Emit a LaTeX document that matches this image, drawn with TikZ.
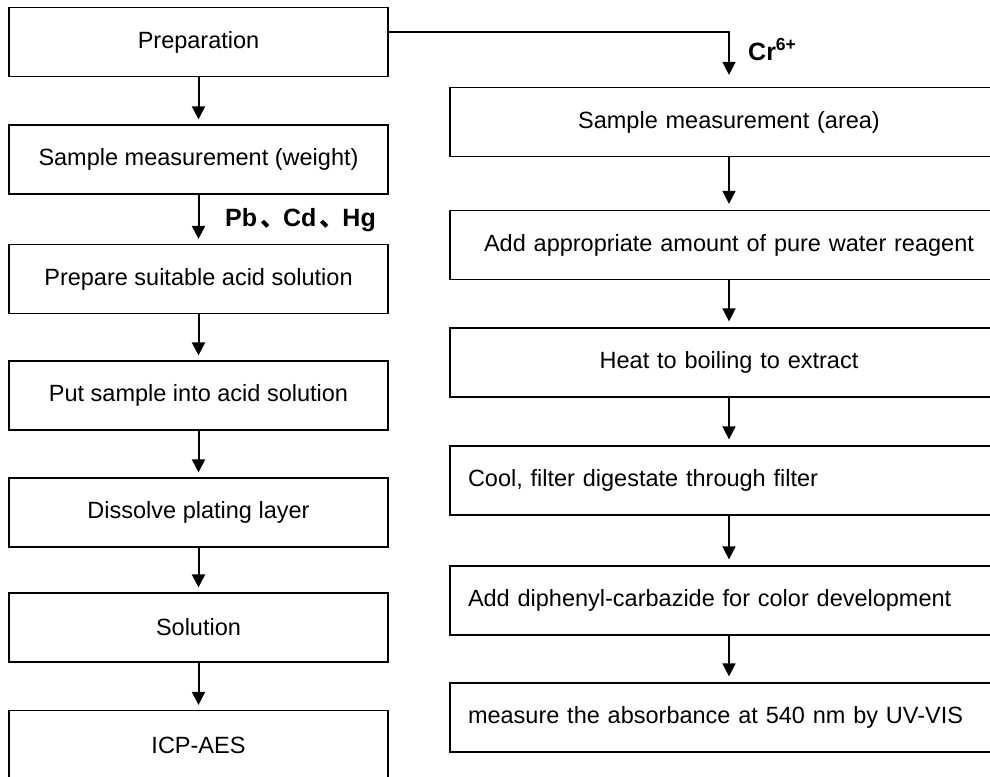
\documentclass[tikz,border=0pt]{standalone}
\usepackage{fontspec}
\setmainfont{Liberation Sans}
\newfontfamily\cjkfont{Noto Sans CJK SC}
\newcommand\cjksep{\kern3pt{\cjkfont 、}\kern-2pt}
\usetikzlibrary{arrows.meta}

\begin{document}
\begin{tikzpicture}[x=1pt,y=-1pt,font=\fontsize{23.5}{28}\selectfont,
    lbox/.style={draw,line width=1.2pt,minimum width=379pt,minimum height=69pt,inner sep=0pt,align=center},
    rbox/.style={draw,line width=1.2pt,text width=522pt,inner xsep=18pt,inner ysep=0pt,minimum height=69pt},
    larr/.style={-{Triangle[length=13pt,width=13pt]},line width=2pt,shorten >=5pt},
    rarr/.style={-{Triangle[length=13pt,width=13pt]},line width=1.5pt,shorten >=6pt},
    lbl/.style={font=\fontsize{25}{28}\selectfont\bfseries,anchor=base west,inner sep=0pt}]
    \useasboundingbox (0,0) rectangle (990,776);
    \clip (0,0) rectangle (990,776);
    % left track: Pb, Cd, Hg
    \node[lbox] (prep)     at (198.5,42)    {Preparation};
    \node[lbox] (weight)   at (198.5,159.5) {Sample measurement (weight)};
    \node[lbox] (acid)     at (198.5,279)   {Prepare suitable acid solution};
    \node[lbox] (put)      at (198.5,395.5) {Put sample into acid solution};
    \node[lbox] (dissolve) at (198.5,512.5) {Dissolve plating layer};
    \node[lbox] (soln)     at (198.5,627.5) {Solution};
    \node[lbox] (icp)      at (198.5,745)   {ICP-AES};
    \foreach \a/\b in {prep/weight,weight/acid,acid/put,put/dissolve,dissolve/soln,soln/icp}
      \draw[larr] (\a) -- (\b);
    \node[lbl] (pbcdhg) at (225,226) {Pb\cjksep Cd\cjksep Hg};
    % right track: Cr6+
    \node[rbox,align=center] (area)  at (729,122)   {Sample measurement (area)};
    \node[rbox,align=center] (water) at (729,245)   {Add appropriate amount of pure water reagent};
    \node[rbox,align=center] (heat)  at (729,362.5) {Heat to boiling to extract};
    \node[rbox,align=left]   (cool)  at (729,480.5) {Cool, filter digestate through filter};
    \node[rbox,align=left]   (diph)  at (729,600.5) {Add diphenyl-carbazide for color development};
    \node[rbox,align=left]   (uvvis) at (729,717.5) {measure the absorbance at 540 nm by UV-VIS};
    \foreach \a/\b in {area/water,water/heat,heat/cool,cool/diph,diph/uvvis}
      \draw[rarr] (\a) -- (\b);
    \coordinate (crturn) at (729,32);
    \draw[rarr,shorten >=12pt] (prep.east |- crturn) -- (crturn) -- (area);
    \node[lbl] (cr) at (748,60) {Cr\textsuperscript{6+}};
\end{tikzpicture}
\end{document}
